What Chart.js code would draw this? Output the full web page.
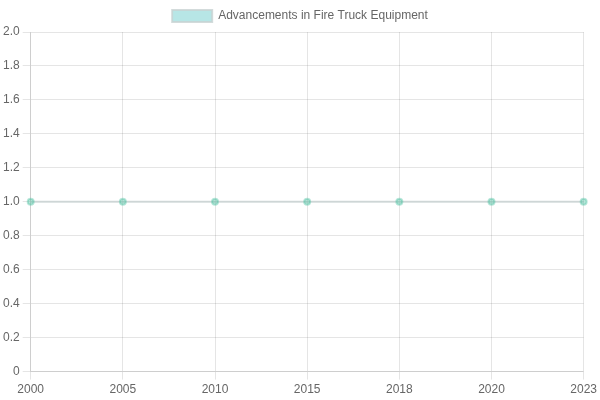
<!DOCTYPE html>
<html>
<head>
<meta charset="utf-8">
<script src="https://cdn.jsdelivr.net/npm/chart.js@4"></script>
<style>
  html, body { margin: 0; padding: 0; background: #fff; }
  #wrap { width: 600px; height: 400px; }
</style>
</head>
<body>
<div id="wrap"><canvas id="chart"></canvas></div>
<script>
// Chart data
const years = ['2000', '2005', '2010', '2015', '2018', '2020', '2023'];
const advancements = [1, 1, 1, 1, 1, 1, 1];
const seriesLabel = 'Advancements in Fire Truck Equipment';

Chart.defaults.font.family = '"Liberation Sans", Arial, sans-serif';

const ctx = document.getElementById('chart').getContext('2d');
const chart = new Chart(ctx, {
  type: 'line',
  data: {
    labels: years,
    datasets: [{
      label: seriesLabel,
      data: advancements,
      backgroundColor: 'rgba(75, 192, 192, 0.4)',
      borderColor: 'rgba(200, 210, 210, 0.8)',
      pointBackgroundColor: 'rgba(75, 192, 160, 0.4)',
      pointBorderColor: 'rgba(75, 192, 160, 0.4)',
      borderWidth: 2,
      fill: false
    }]
  },
  options: {
    responsive: true,
    maintainAspectRatio: false,
    animation: false,
    scales: {
      y: { min: 0, max: 2 }
    },
    plugins: {
      legend: { display: true }
    }
  }
});
</script>
</body>
</html>
